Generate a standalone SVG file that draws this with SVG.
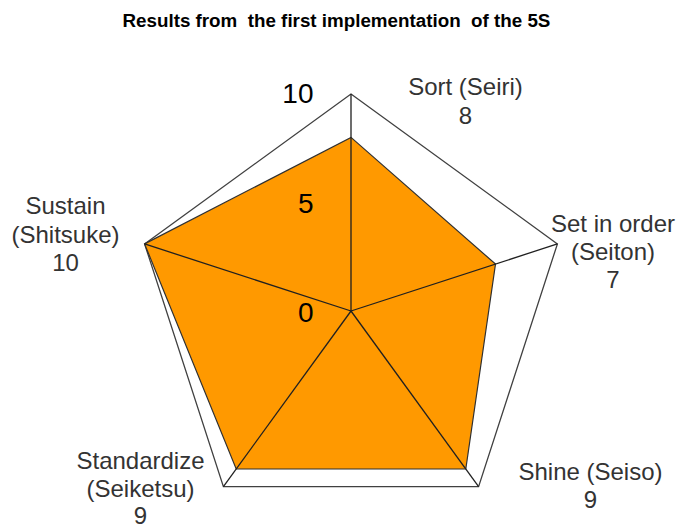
<svg xmlns="http://www.w3.org/2000/svg" width="678" height="529" viewBox="0 0 678 529">
<style>
.grid{fill:none;stroke:#404040;stroke-width:1.3;stroke-linejoin:miter}
.data{fill:#FF9900;stroke:#303030;stroke-width:1.2;stroke-linejoin:miter}
.spoke{stroke:#202020;stroke-width:1.3}
.cat{font-family:"Liberation Sans",Arial,sans-serif;font-size:24px;fill:#333333;text-anchor:middle}
.tick{font-family:"Liberation Sans",Arial,sans-serif;font-size:28px;fill:#000000;text-anchor:end}
.title{font-family:"Liberation Sans",Arial,sans-serif;font-size:18.8px;font-weight:bold;fill:#000000}
</style>
<rect width="678" height="529" fill="#ffffff"/>
<text class="title" x="122.5" y="27" xml:space="preserve">Results from  the first implementation  of the 5S</text>
<g id="grid">
<polygon class="grid" points="351,94 557.4,243.9 478.6,486.6 223.4,486.6 144.6,243.9"/>
</g>
<g id="series">
<polygon class="data" points="351,137.4 495.5,264.1 465.8,469 236.2,469 144.6,243.9"/>
</g>
<g id="connectors">
<line class="spoke" x1="351" y1="311" x2="351" y2="94"/>
<line class="spoke" x1="351" y1="311" x2="557.4" y2="243.9"/>
<line class="spoke" x1="351" y1="311" x2="478.6" y2="486.6"/>
<line class="spoke" x1="351" y1="311" x2="223.4" y2="486.6"/>
<line class="spoke" x1="351" y1="311" x2="144.6" y2="243.9"/>
</g>
<g id="ticks">
<text class="tick" x="313.5" y="103">10</text>
<text class="tick" x="313.5" y="213">5</text>
<text class="tick" x="313.5" y="322">0</text>
</g>
<g id="node-sort">
<text class="cat" x="465.5" y="95">Sort (Seiri)</text>
<text class="cat" x="465.5" y="124">8</text>
</g>
<g id="node-set">
<text class="cat" x="613" y="232">Set in order</text>
<text class="cat" x="613" y="260">(Seiton)</text>
<text class="cat" x="613" y="288">7</text>
</g>
<g id="node-shine">
<text class="cat" x="590.5" y="480">Shine (Seiso)</text>
<text class="cat" x="590.5" y="508">9</text>
</g>
<g id="node-standardize">
<text class="cat" x="140.5" y="469">Standardize</text>
<text class="cat" x="140.5" y="497">(Seiketsu)</text>
<text class="cat" x="140.5" y="524">9</text>
</g>
<g id="node-sustain">
<text class="cat" x="65.5" y="214">Sustain</text>
<text class="cat" x="65.5" y="242.5">(Shitsuke)</text>
<text class="cat" x="65.5" y="271">10</text>
</g>
</svg>
